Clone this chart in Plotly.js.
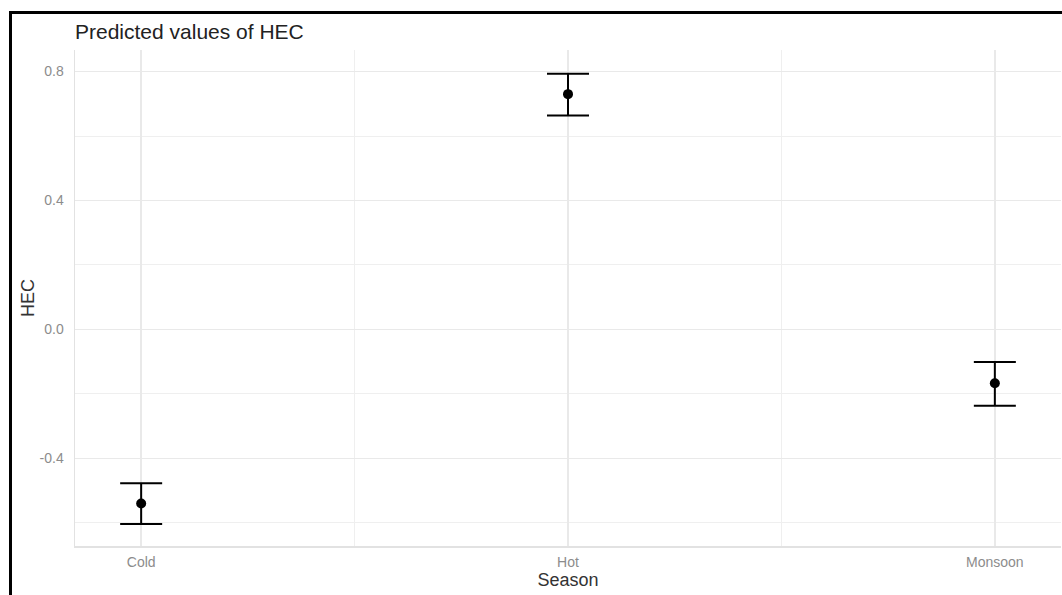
<!DOCTYPE html>
<html>
<head>
<meta charset="utf-8">
<script src="https://cdn.plot.ly/plotly-3.0.1.min.js"></script>
<style>
  html, body { margin: 0; padding: 0; background: #ffffff; }
  #wrap { position: relative; width: 1062px; height: 595px; overflow: hidden; }
  #chart { width: 1062px; height: 595px; }
  #frame { position: absolute; left: 9px; top: 11px; width: 1100px; height: 700px;
           border-left: 3px solid #000; border-top: 3px solid #000; pointer-events: none; }
</style>
</head>
<body>
<div id="wrap">
  <div id="chart"></div>
  <div id="frame"></div>
</div>
<script>
// Data
const categories = ['Cold', 'Hot', 'Monsoon'];
const predicted  = [-0.540, 0.730, -0.167];
const ciLow      = [-0.604, 0.664, -0.237];
const ciHigh     = [-0.477, 0.793, -0.101];
const yTickVals  = [-0.4, 0.0, 0.4, 0.8];
const yTickText  = ['-0.4', '0.0', '0.4', '0.8'];
const yMinorVals = [-0.6, -0.2, 0.2, 0.6];

const xIdx = categories.map((c, i) => i);
const errPlus  = predicted.map((v, i) => ciHigh[i] - v);
const errMinus = predicted.map((v, i) => v - ciLow[i]);

const trace = {
  type: 'scatter',
  mode: 'markers',
  x: xIdx,
  y: predicted,
  text: categories,
  marker: { color: '#000000', size: 10 },
  error_y: {
    type: 'data', symmetric: false,
    array: errPlus, arrayminus: errMinus,
    color: '#000000', thickness: 2, width: 21
  },
  hoverinfo: 'text+y',
  showlegend: false
};

const font = 'Liberation Sans, Arial, sans-serif';

const layout = {
  width: 1062, height: 595,
  margin: { l: 75, r: 1, t: 50, b: 49 },
  paper_bgcolor: '#ffffff',
  plot_bgcolor: '#ffffff',
  font: { family: font, color: '#8c8c8c' },
  title: {
    text: 'Predicted values of HEC',
    font: { family: font, size: 21, color: '#222222' },
    x: 0, xref: 'paper', xanchor: 'left',
    y: 0.947, yref: 'container', yanchor: 'middle'
  },
  xaxis: {
    range: [-0.155, 2.155],
    tickmode: 'array', tickvals: xIdx, ticktext: categories,
    tickfont: { family: font, size: 14, color: '#8c8c8c' },
    ticks: 'outside', ticklen: 3, tickcolor: 'rgba(0,0,0,0)',
    showgrid: true, gridcolor: '#e9e9e9', gridwidth: 1.5,
    minor: { tickvals: [0.5, 1.5], showgrid: true, gridcolor: '#efefef', gridwidth: 1, ticks: '' },
    zeroline: false,
    showline: true, linecolor: '#e2e2e2', linewidth: 1.5,
    title: { text: 'Season', font: { family: font, size: 18, color: '#333333' }, standoff: 0 }
  },
  yaxis: {
    range: [-0.672, 0.867],
    tickmode: 'array', tickvals: yTickVals, ticktext: yTickText,
    tickfont: { family: font, size: 14, color: '#8c8c8c' },
    ticks: 'outside', ticklen: 7, tickcolor: 'rgba(0,0,0,0)',
    showgrid: true, gridcolor: '#e9e9e9', gridwidth: 1.5,
    minor: { tickvals: yMinorVals, showgrid: true, gridcolor: '#efefef', gridwidth: 1, ticks: '' },
    zeroline: false,
    showline: true, linecolor: '#e2e2e2', linewidth: 1.5,
    title: { text: 'HEC', font: { family: font, size: 18, color: '#333333' }, standoff: 0 }
  }
};

Plotly.newPlot('chart', [trace], layout, { displayModeBar: false, staticPlot: true });
</script>
</body>
</html>
